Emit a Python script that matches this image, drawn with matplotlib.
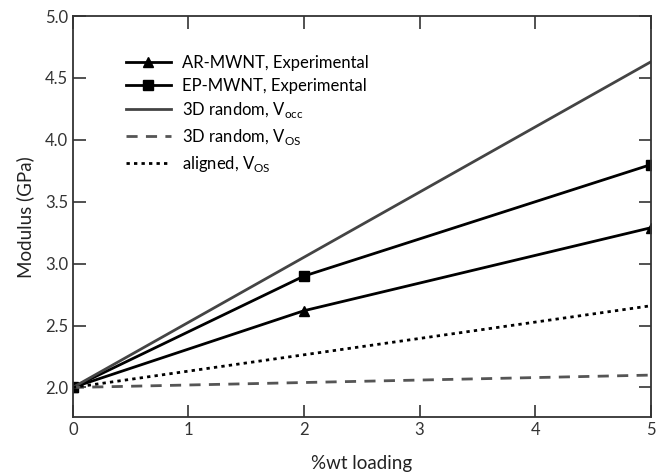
import matplotlib
matplotlib.use("Agg")
import matplotlib.pyplot as plt

plt.rcParams['font.family'] = ['Lato', 'DejaVu Sans']
plt.rcParams['mathtext.fontset'] = 'custom'
plt.rcParams['mathtext.rm'] = 'Lato'

# donnees
loading = [0, 2, 5]
ar_mwnt = [2.0, 2.62, 3.29]
ep_mwnt = [2.0, 2.9, 3.8]
model_x = [0, 5]
random_occ = [2.0, 4.63]
random_os = [2.0, 2.10]
aligned_os = [2.0, 2.66]

fig = plt.figure(figsize=(6.56, 4.73), dpi=100)
ax = fig.add_axes([0.111, 0.118, 0.881, 0.848])

ax.plot(loading, ar_mwnt, color='black', lw=2, marker='^', ms=6.5, label='AR-MWNT, Experimental')
ax.plot(loading, ep_mwnt, color='black', lw=2, marker='s', ms=6.5, label='EP-MWNT, Experimental')
ax.plot(model_x, random_occ, color='#444444', lw=2, label=r'3D random, V$_{\rm occ}$')
ax.plot(model_x, random_os, color='#555555', lw=2, dashes=(4, 3), label=r'3D random, V$_{\rm OS}$')
ax.plot(model_x, aligned_os, color='black', lw=2, dashes=(1.2, 1.5), label=r'aligned, V$_{\rm OS}$')

ax.set_xlim(0, 5)
ax.set_ylim(1.76, 5.0)
ax.set_xticks([0, 1, 2, 3, 4, 5])
ax.set_yticks([2.0, 2.5, 3.0, 3.5, 4.0, 4.5, 5.0])
ax.set_yticklabels(['2.0', '2.5', '3.0', '3.5', '4.0', '4.5', '5.0'])
ax.tick_params(direction='in', length=9, width=1.2, top=True, right=True, labelsize=12, colors='#333333')
ax.tick_params(labeltop=False, labelright=False)
for s in ax.spines.values():
    s.set_linewidth(1.3)
    s.set_color('#333333')

ax.set_xlabel('%wt loading', fontsize=13.5, color='#222222', labelpad=12)
ax.set_ylabel('Modulus (GPa)', fontsize=13.5, color='#222222', labelpad=8)

ax.legend(loc='upper left', bbox_to_anchor=(0.08, 0.92), frameon=False, fontsize=12,
          handlelength=2.7, handletextpad=0.7, labelspacing=0.4, borderaxespad=0)

fig.savefig('out.png', dpi=100)
